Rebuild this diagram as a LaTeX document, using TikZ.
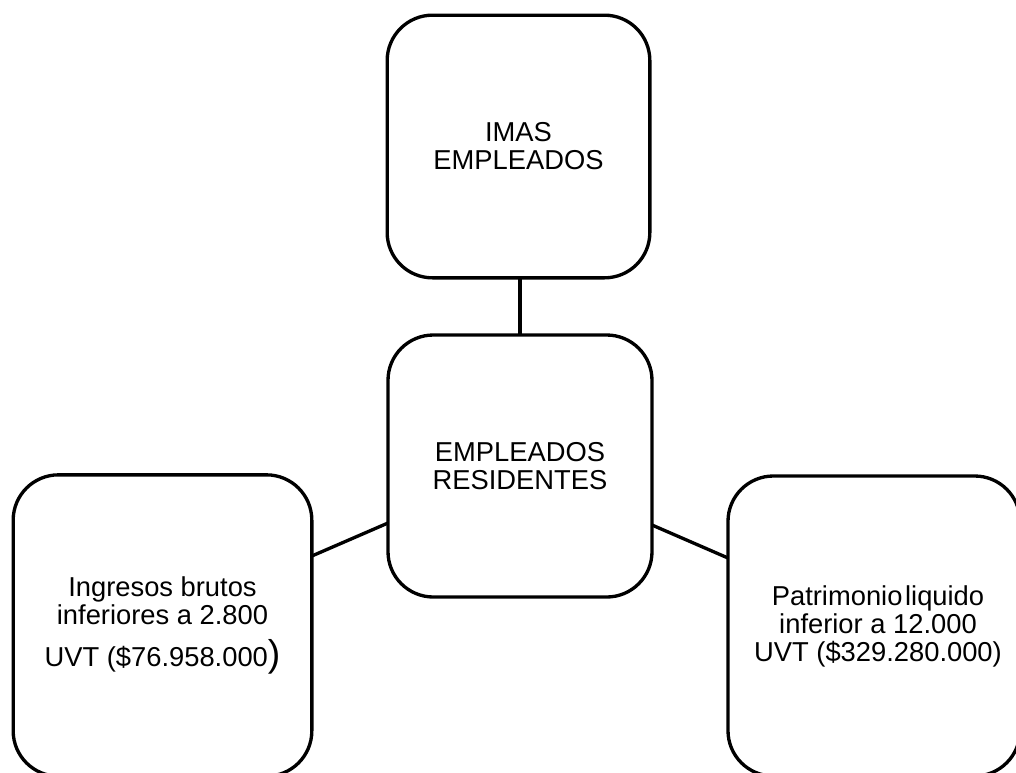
\documentclass[tikz,border=0pt]{standalone}
\usepackage{fontspec}
\setmainfont{Liberation Sans}
\usetikzlibrary{calc}

\tikzset{
  card/.style={draw=black, line width=2.5pt, rounded corners=34pt,
    fill=white, inner sep=0pt, outer sep=0pt, align=center,
    font=\fontsize{20.5}{21}\selectfont},
  link/.style={draw=black, line width=2.5pt}
}

\begin{document}
\begin{tikzpicture}[x=0.75pt, y=-0.75pt]
  \useasboundingbox (0,0) rectangle (1016,772);
  \fill[white] (0,0) rectangle (1016,772);
  \clip (0,0) rectangle (1016,772);

  % four rounded cards (sizes in px of the layout grid)
  \node[card, minimum width=197pt, minimum height=197pt] (top) at (518.5,146.5)
    {IMAS\\EMPLEADOS};
  \node[card, minimum width=198pt, minimum height=196.5pt] (mid) at (520,466)
    {EMPLEADOS\\RESIDENTES};
  \node[card, minimum width=224pt, minimum height=226pt] (left) at (162.5,625.5)
    {Ingresos brutos\\inferiores a 2.800\\[10pt]UVT (\$76.958.000{\fontsize{28}{28}\selectfont )}};
  \node[card, minimum width=219pt, minimum height=225pt] (right) at (874,626)
    {\hspace*{6pt}Patrimonio\hspace{2pt}liquido\\\hspace*{6pt}inferior a 12.000\\\hspace*{6pt}UVT (\$329.280.000)};

  % connectors
  \draw[link] (mid.north) -- (mid.north |- top.south);
  \draw[link] ($(mid.west)+(0,57)$) -- ($(left.east)+(0,-69.5)$);
  \draw[link] ($(mid.east)+(0,59)$) -- ($(right.west)+(0,-68)$);
\end{tikzpicture}
\end{document}
